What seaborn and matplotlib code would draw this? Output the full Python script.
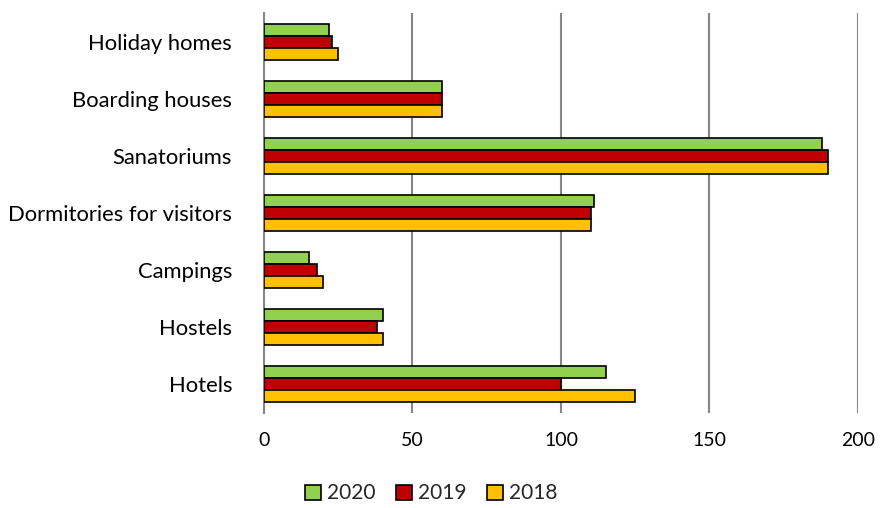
import pandas as pd
import matplotlib
matplotlib.use("Agg")
import matplotlib.pyplot as plt
import seaborn as sns

# values
categories = ["Holiday homes", "Boarding houses", "Sanatoriums",
              "Dormitories for visitors", "Campings", "Hostels", "Hotels"]
years = ["2020", "2019", "2018"]
values_2020 = [22, 60, 188, 111, 15, 40, 115]
values_2019 = [23, 60, 190, 110, 18, 38, 100]
values_2018 = [25, 60, 190, 110, 20, 40, 125]
x_ticks = [0, 50, 100, 150, 200]

colors = {"2020": "#92D050", "2019": "#C00000", "2018": "#FFC000"}

df = pd.DataFrame({
    "category": categories * 3,
    "year": ["2020"] * 7 + ["2019"] * 7 + ["2018"] * 7,
    "value": values_2020 + values_2019 + values_2018,
})

sns.set_style("white")
plt.rcParams["font.family"] = ["Lato", "DejaVu Sans"]

fig = plt.figure(figsize=(8.84, 5.08), dpi=100)
ax = fig.add_axes([0.2986, 0.187, 0.672, 0.787])

sns.barplot(data=df, y="category", x="value", hue="year",
            order=categories, hue_order=years, palette=colors,
            orient="h", width=0.63, edgecolor="black", linewidth=1.2,
            saturation=1, ax=ax, zorder=3)

ax.set_xlim(0, 200)
ax.set_xticks(x_ticks)
ax.xaxis.grid(True, color="#868686", linewidth=1.5, zorder=0)
ax.set_axisbelow(True)
for s in ["top", "right", "bottom"]:
    ax.spines[s].set_visible(False)
ax.spines["left"].set_color("#868686")
ax.spines["left"].set_linewidth(1.5)
ax.tick_params(axis="both", length=0, colors="black")
ax.tick_params(axis="x", pad=14, labelsize=14)
ax.tick_params(axis="y", pad=23, labelsize=15.8)
ax.set_xlabel("")
ax.set_ylabel("")

handles, labels = ax.get_legend_handles_labels()
ax.get_legend().remove()
fig.legend(handles, labels, loc="lower center", bbox_to_anchor=(0.488, -0.028),
           ncol=3, frameon=False, fontsize=15, handlelength=0.75,
           handleheight=0.75, handletextpad=0.3, columnspacing=1.0)

fig.savefig("out.png", dpi=100)
